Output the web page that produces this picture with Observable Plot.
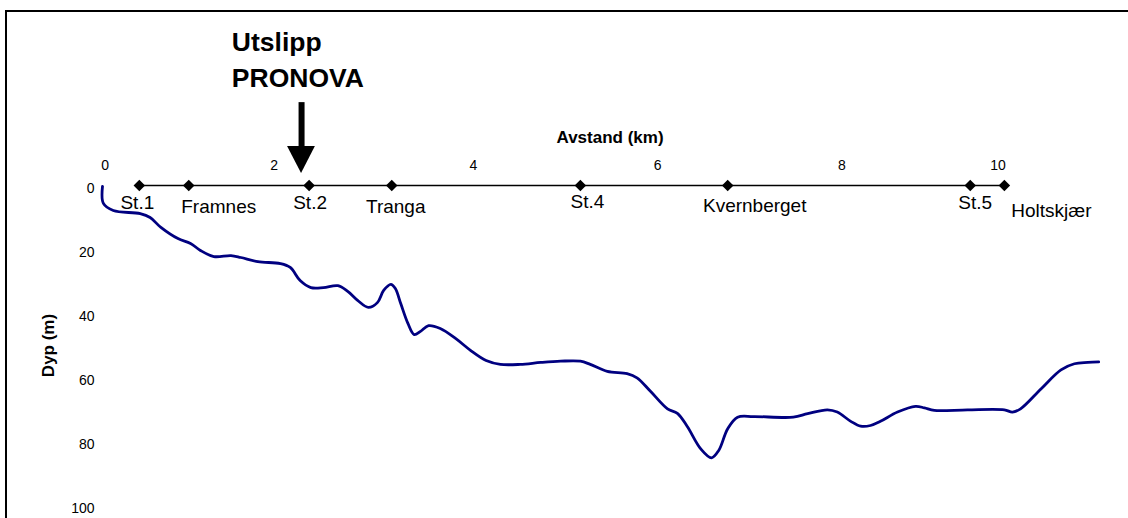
<!DOCTYPE html>
<html><head><meta charset="utf-8">
<script src="https://cdn.jsdelivr.net/npm/d3@7"></script>
<script src="https://cdn.jsdelivr.net/npm/@observablehq/plot@0.6"></script>
<style>
html,body{margin:0;padding:0;background:#fff;overflow:hidden;width:1128px;height:518px;}
#frame{position:absolute;left:5px;top:10px;width:2000px;height:2000px;border:2px solid #000;box-sizing:border-box;}
#chart{position:absolute;left:0;top:0;}
</style></head><body><div id="frame"></div><div id="chart"></div>
<script>
// Depth profile (distance in km, depth in m)
const profileKm = [0, 0.01, 0.12, 0.42, 0.53, 0.65, 0.84, 0.98, 1.09, 1.24, 1.43, 1.54, 1.73, 1.98, 2.09, 2.20, 2.32, 2.46, 2.62, 2.73, 2.84, 2.96, 3.06, 3.13, 3.21, 3.26, 3.32, 3.40, 3.47, 3.54, 3.63, 3.76, 3.93, 4.10, 4.27, 4.43, 4.65, 4.88, 5.10, 5.32, 5.43, 5.62, 5.84, 5.95, 6.10, 6.29, 6.40, 6.51, 6.66, 6.78, 6.86, 6.96, 7.07, 7.25, 7.69, 7.85, 8.07, 8.18, 8.33, 8.44, 8.55, 8.66, 8.85, 9.05, 9.15, 9.26, 9.63, 10.04, 10.13, 10.22, 10.45, 10.67, 10.82, 10.97, 11.09];
const profileDepth = [0.3, 5.6, 7.8, 8.8, 10.0, 13.1, 16.6, 18.1, 20.3, 22.2, 21.9, 22.5, 23.8, 24.4, 25.6, 29.7, 31.9, 31.9, 31.3, 33.1, 35.9, 38.1, 36.6, 32.8, 30.9, 32.2, 36.9, 43.1, 46.6, 45.6, 43.8, 44.7, 47.8, 51.6, 54.7, 55.9, 55.9, 55.3, 54.9, 54.9, 55.9, 58.1, 58.8, 60.1, 64.3, 69.8, 71.2, 75.3, 82.3, 85.1, 82.8, 76.0, 72.4, 72.2, 72.4, 71.3, 70.1, 70.8, 73.7, 75.2, 75.0, 73.7, 70.8, 69.0, 69.5, 70.3, 70.1, 70.1, 70.8, 69.8, 63.5, 57.6, 55.7, 55.3, 55.1];

// Stations along the section
const stationNames = ["St.1", "Framnes", "St.2", "Tranga", "St.4", "Kvernberget", "St.5", "Holtskjær"];
const stationKm = [0.41, 0.96, 2.30, 3.22, 5.32, 6.96, 9.66, 10.04];

// Axis ticks
const xTickLabels = ["0", "2", "4", "6", "8", "10"];
const xTickKm = [0.03, 1.91, 4.13, 6.18, 8.23, 9.97];
const yTicks = [0, 20, 40, 60, 80, 100];

// Annotation texts
const titleX = "Avstand (km)";
const titleY = "Dyp (m)";
const outletText = "Utslipp\nPRONOVA";

// ---- layout (not data) ----
const labelDx = [-2, 30, 1, 4, 7, 27, 5, 47];
const labelDy = [17, 21, 17, 21, 16, 20, 17, 25];
const arrowKm = 2.216;
const arrowShaft = [-25.9, -11.5];
const arrowHead = [{x: 2.06, y2: -12.2}, {x: 2.216, y2: -3.75}, {x: 2.37, y2: -12.2}];

const profile = profileKm.map((k, i) => ({km: k, depth: profileDepth[i]}));
const stations = stationNames.map((n, i) => ({name: n, km: stationKm[i], dx: labelDx[i], dy: labelDy[i]}));
const xTicks = xTickLabels.map((t, i) => ({label: t, km: xTickKm[i]}));

const font = "'Liberation Sans', Arial, Helvetica, sans-serif";

const chart = Plot.plot({
  width: 1128,
  height: 518,
  marginLeft: 102,
  marginRight: 28,
  marginTop: 185,
  marginBottom: 13,
  style: {fontFamily: font, background: "transparent", overflow: "visible", color: "#000"},
  x: {domain: [0, 11.11], axis: null},
  y: {domain: [0, 100], reverse: true, axis: null},
  marks: [
    Plot.axisY({ticks: yTicks, tickSize: 0, tickPadding: 8, fontSize: 14, label: null, dy: 3, anchor: "left"}),
    Plot.text([titleY], {frameAnchor: "left", y: [50], text: d => d, dx: -54, rotate: -90, textAnchor: "middle", fontSize: 17, fontWeight: "bold"}),
    // station line and markers
    Plot.line(stations.filter((d, i) => i === 0 || i === stations.length - 1), {x: "km", y: () => 0, stroke: "#000", strokeWidth: 1.6}),
    Plot.dot(stations, {x: "km", y: () => 0, symbol: "diamond2", r: 5.2, fill: "#000", stroke: "none"}),
    ...stations.map(s => Plot.text([s], {x: "km", y: () => 0, text: "name", dx: s.dx, dy: s.dy, fontSize: 19})),
    // x tick labels and title
    Plot.text(xTicks, {x: "km", y: () => -6.2, text: "label", fontSize: 14}),
    Plot.text([titleX], {x: () => 5.65, y: () => -15, text: d => d, fontSize: 17, fontWeight: "bold"}),
    // outlet arrow
    Plot.ruleX([arrowKm], {y1: arrowShaft[0], y2: arrowShaft[1], stroke: "#000", strokeWidth: 6}),
    Plot.areaY(arrowHead, {x: "x", y1: -12.2, y2: "y2", fill: "#000"}),
    Plot.text([outletText], {x: () => 1.44, y: () => -39.9, text: d => d, textAnchor: "start", lineAnchor: "middle", lineHeight: 1.36, fontSize: 26.5, fontWeight: "bold"}),
    // depth profile
    Plot.line(profile, {x: "km", y: "depth", stroke: "#000080", strokeWidth: 2.8, curve: "catmull-rom"})
  ]
});
document.getElementById("chart").append(chart);
</script></body></html>
